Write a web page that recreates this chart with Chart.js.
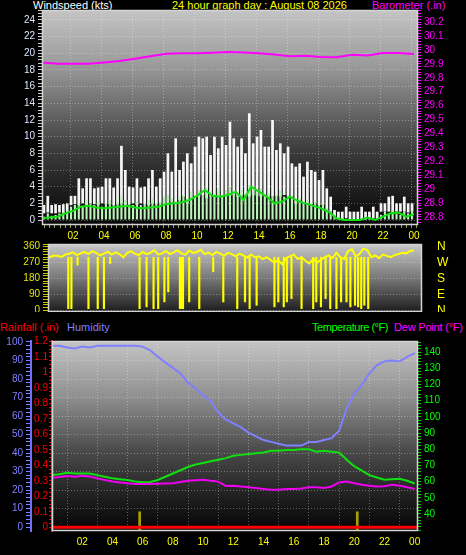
<!DOCTYPE html>
<html>
<head>
<meta charset="utf-8">
<script src="https://cdn.jsdelivr.net/npm/chart.js@4.4.1/dist/chart.umd.min.js"></script>
<style>
  html, body { margin: 0; padding: 0; background: #000; }
  body { width: 466px; height: 555px; position: relative; overflow: hidden; font-family: "Liberation Sans", Arial, sans-serif; }
  canvas { position: absolute; left: 0; }
  .lbl { position: absolute; font-size: 11px; line-height: 12px; white-space: nowrap; }
</style>
</head>
<body>
<div class="lbl" style="left:33px;top:-1px;color:#fff">Windspeed (kts)</div>
<div class="lbl" style="left:172px;top:-1px;color:#ff0">24 hour graph day : August 08 2026</div>
<div class="lbl" style="left:372px;top:-1px;color:#f0f">Barometer (.in)</div>
<div class="lbl" style="left:0;top:321px;color:#f00">Rainfall (.in)</div>
<div class="lbl" style="left:67px;top:321px;color:#8080ff">Humidity</div>
<div class="lbl" style="left:312px;top:321px;color:#0f0;letter-spacing:-0.45px">Temperature (°F)</div>
<div class="lbl" style="left:394px;top:321px;color:#f0f;letter-spacing:-0.2px">Dew Point (°F)</div>
<canvas id="windChart" width="466" height="243" style="top:0"></canvas>
<canvas id="dirChart" width="466" height="72" style="top:240px"></canvas>
<canvas id="climateChart" width="466" height="240" style="top:315px"></canvas>
<script>
// wind, one value per 15 minute slot from midnight (kts)
const gustHigh = [1.8,2.9,1.8,1.9, 1.8,1.9,2.0,2.9, 2.9,5.0,3.8,5.0, 5.0,3.8,3.9,4.0, 5.0,5.0,3.9,5.0, 8.9,6.0,4.0,3.9,
  5.0,3.9,4.0,5.0, 6.0,4.0,5.0,5.8, 8.0,5.8,9.8,6.0, 7.0,8.0,6.8,8.8, 10.0,9.8,10.0,7.8, 10.0,8.6,10.0,9.0,
  11.8,9.8,8.8,9.8, 8.0,12.8,9.2,10.0, 10.8,8.8,8.8,12.0, 8.4,9.2,8.0,8.8, 6.8,6.4,6.8,5.2, 7.0,6.0,5.8,4.8,
  6.0,3.8,2.8,1.2, 1.0,1.0,1.6,1.0, 1.0,1.0,1.6,1.0, 1.0,1.6,1.0,2.0, 2.0,2.8,2.9,2.0, 2.0,2.8,2.0,2.0];
const gustLow = [0.8,0.9,0.8,0.8, 0.9,0.8,1.0,1.8, 1.9,1.8,2.0,1.8, 2.0,1.9,1.8,2.0, 1.9,2.0,1.8,1.9, 2.0,1.8,1.9,2.0,
  1.8,2.0,1.9,1.8, 2.0,1.9,2.0,2.0, 2.0,2.2,1.9,2.4, 2.8,2.0,2.6,2.9, 2.8,3.0,2.6,2.9, 3.0,2.8,2.9,3.0,
  2.9,3.0,2.8,3.0, 3.0,2.8,3.0,2.9, 2.8,3.0,2.9,2.8, 2.9,2.8,3.0,2.9, 2.8,2.0,2.4,2.0, 2.0,1.9,2.0,1.8,
  1.8,1.0,1.0,0.4, 0.0,0.0,0.2,0.0, 0.0,0.0,0.0,0.0, 0.0,0.2,0.0,1.0, 1.0,1.0,0.9,1.0, 1.0,1.0,0.9,1.0];
const windHigh = [0.4,0.8,0.5,0.6, 0.8,1.0,1.2,1.6, 1.8,2.0,1.6,2.4, 2.0,1.8,2.2,1.6, 2.0,2.4,1.8,2.2, 2.8,2.4,2.0,1.8,
  2.2,1.8,2.0,2.4, 2.6,2.0,2.2,2.8, 3.0,2.6,2.2,2.8, 3.0,2.6,3.4,3.0, 3.6,3.0,3.8,3.4, 3.2,3.8,3.0,3.6,
  4.0,3.4,3.0,3.6, 3.2,4.2,3.6,3.4, 3.8,3.0,3.2,2.8, 3.0,3.6,2.8,3.0, 2.8,2.2,2.6,2.0, 2.4,2.0,2.2,1.8,
  2.0,1.4,1.0,0.6, 0,0,0,0, 0,0,0,0.2, 0,0,0,0.6, 1.0,0.8,1.2,0.8, 0.6,1.0,0.8,1.2];

// average wind, every half hour
const avgWind = [0.2,0.3,0.4,0.8,1.1,1.6,1.7,1.5,1.4,1.5,1.6,1.7,1.5,1.4,1.5,1.6,1.9,2.0,2.1,2.4,2.9,3.6,2.9,2.8,
  3.0,3.4,2.4,4.0,3.4,2.8,2.0,2.2,2.8,2.3,2.0,1.7,1.4,1.0,0.2,0,0,0,0.3,0,0.4,0.8,0.9,0.4,0.7];

// barometer, hourly (in)
const baroValues = [29.91,29.90,29.90,29.90,29.91,29.92,29.937,29.955,29.972,29.977,29.977,29.98,29.985,29.982,
  29.977,29.968,29.955,29.958,29.95,29.948,29.965,29.96,29.978,29.978,29.97];

// wind direction, every quarter hour (deg)
const dirValues = [315,305,300,310, 308,302,315,320, 328,312,322,330, 318,335,325,310, 320,332,315,328,
  318,300,325,335, 320,312,330,318, 325,340,315,322, 335,318,328,340, 322,315,338,325, 330,342,318,326,
  312,330,320,308, 325,318,305,320, 310,298,315,300, 305,290,300,285, 270,285,260,295, 305,315,290,300,
  280,265,290,270, 285,300,310,295, 325,300,290,335, 345,305,320,350, 340,300,310,295, 315,308,300,312,
  318,325,322,335, 340];
const dropHours = [1.7,1.9,2.3,3.0,3.6,4.0,4.4,6.3,6.75,7.2,7.5,7.9,8.15,8.9,9.0,9.1,9.5,10.15,11.05,11.7,
  12.6,13.1,13.4,13.85,15.0,15.25,15.6,15.8,16.1,16.75,17.5,17.7,18.0,18.3,18.6,19.0,19.3,19.65,19.9,
  20.2,20.4,20.6,20.8,21.05];
const dropLows = [9,9,256,9,9,9,265,9,19,9,9,47,104,9,9,9,47,9,218,47,
  9,47,9,28,19,47,19,47,66,9,9,47,19,66,9,9,47,47,19,
  28,19,9,28,9];
const compass = { 0: "N", 90: "E", 180: "S", 270: "W", 360: "N" };

// humidity (%), temperature and dew point (F), every half hour
const humidity = [98,98,97,96.5,97.5,97,98,98,98,98,98,98,97.5,95.5,92,89,86,83,78,75,71,68,62,58,56,54,51,49,
  47,46,45,44,44,44,46,46,47,48,52,64,72,77,83,87.5,89.5,90,89.5,92,94];
const temperature = [64,64.5,65.5,65,65,65,64,63,62,61.5,61,60,59.6,59.8,61,63,65,67,69,70.5,71.5,72.5,73.5,74.5,
  76,76.5,77,77.5,78,79,79,79.5,79.5,80,80,78.5,79,78.5,78,73.5,69.5,66.8,64,62.5,61.2,61.5,61.8,60.5,58.8];
const dewPoint = [62.4,62.8,63.5,63,63.6,63.2,62,61,60,59.5,59,58.5,58.5,58.5,58.6,58.8,59,59.8,60.5,60.8,61.2,60.5,
  60,57.3,57.5,57,56.5,56,55.5,55,55,55.5,55.5,55.8,56.5,56.5,56,57,59.5,60,59,58,57.5,57,57.2,58,57.5,56.5,55.5];

// rainfall (in)
const rainHours = [0, 24.3];
const rainTotals = [0, 0];
const markHours = [5.8, 20.2];
const markValues = [0.1, 0.1];

const slotHours = gustHigh.map((_, i) => i / 4 + 0.125);
const halfHours = avgWind.map((_, i) => i / 2);
const baroHours = baroValues.map((_, i) => i);
const dirHours = dirValues.map((_, i) => i / 4);
const xy = (xs, ys) => xs.map((x, i) => ({ x, y: ys[i] }));

Chart.defaults.font.family = '"Liberation Sans", Arial, sans-serif';
Chart.defaults.font.size = 10;

const GRID = "rgba(255,255,255,0.32)";
const isMult = (v, m) => Math.abs(v / m - Math.round(v / m)) < 1e-6;
const pad2 = (h) => String(Math.round(h) % 24).padStart(2, "0");
const fixW = (w) => (s) => { s.width = w; s.paddingTop = 0; s.paddingBottom = 0; };
const fixH = (h) => (s) => { s.height = h; s.paddingLeft = 0; s.paddingRight = 0; };
const stepTicks = (from, to, step) => (s) => {
  s.ticks = [];
  for (let i = 0; from + i * step <= to + 1e-9; i++) s.ticks.push({ value: +(from + i * step).toFixed(4) });
};
const majorGrid = (m) => (c) => (c.tick && isMult(c.tick.value, m) ? GRID : "rgba(0,0,0,0)");

const panelBg = {
  id: "panelBg",
  beforeDraw(chart, args, opts) {
    const { ctx, chartArea: a } = chart;
    const g = ctx.createLinearGradient(0, a.top, 0, a.bottom);
    opts.stops.forEach(([p, c]) => g.addColorStop(p, c));
    ctx.save();
    ctx.fillStyle = g;
    ctx.fillRect(a.left, a.top, a.right - a.left, a.bottom - a.top);
    ctx.restore();
  },
  afterDraw(chart, args, opts) {
    const { ctx, chartArea: a } = chart;
    ctx.save();
    ctx.strokeStyle = opts.frame;
    ctx.lineWidth = 1.5;
    ctx.strokeRect(a.left + 0.5, a.top + 0.5, a.right - a.left - 1, a.bottom - a.top - 1);
    ctx.restore();
  }
};

const base = (padding, stops) => ({
  responsive: false,
  animation: false,
  devicePixelRatio: 1,
  layout: { padding },
  plugins: {
    legend: { display: false },
    tooltip: { enabled: false },
    panelBg: { stops, frame: "#d4d4d4" }
  }
});

// windspeed + barometer
new Chart(document.getElementById("windChart"), {
  type: "line",
  plugins: [panelBg],
  data: {
    datasets: [
      {
        type: "bar",
        data: slotHours.map((x, i) => ({ x, y: [gustLow[i], gustHigh[i]] })),
        backgroundColor: "rgba(255,255,255,0.96)",
        barPercentage: 0.7,
        categoryPercentage: 1,
        grouped: false,
        order: 4,
        yAxisID: "y"
      },
      {
        type: "bar",
        data: slotHours.map((x, i) => ({ x, y: [0, windHigh[i]] })),
        backgroundColor: "#b8f2b4",
        barPercentage: 0.55,
        categoryPercentage: 1,
        grouped: false,
        order: 3,
        yAxisID: "y"
      },
      {
        data: xy(halfHours, avgWind),
        borderColor: "#10e010",
        borderWidth: 2,
        pointRadius: 0,
        order: 2,
        yAxisID: "y"
      },
      {
        data: xy(baroHours, baroValues),
        borderColor: "#ff00ff",
        borderWidth: 2,
        pointRadius: 0,
        order: 1,
        yAxisID: "y1"
      }
    ]
  },
  options: {
    ...base({ top: 10, bottom: 0, left: 0, right: 0 },
      [[0, "#c4c4c4"], [0.25, "#9c9c9c"], [0.45, "#6c6c6c"], [0.65, "#3c3c3c"], [0.88, "#181818"], [1, "#080808"]]),
    scales: {
      x: {
        type: "linear", min: 0, max: 24.26, offset: false,
        afterBuildTicks: stepTicks(0, 24.26, 1 / 3),
        afterFit: fixH(18),
        grid: { color: majorGrid(2), tickColor: "#9a9a60", tickLength: 3 },
        border: { display: false, dash: [1, 2] },
        ticks: {
          color: "#ffff00", padding: 2, autoSkip: false, maxRotation: 0,
          callback: (v) => { const q = Math.round(v * 3); return q > 0 && q % 6 === 0 ? pad2(q / 3) : ""; }
        }
      },
      y: {
        position: "left", min: -0.6, max: 25.2,
        afterBuildTicks: stepTicks(0, 25.2, 0.4),
        afterFit: fixW(42),
        grid: { color: majorGrid(2), tickColor: "#c8c8c8", tickLength: 4 },
        border: { display: false, dash: [1, 2] },
        ticks: { color: "#dde6ff", padding: 3, autoSkip: false, callback: (v) => (isMult(v, 2) ? String(Math.round(v)) : "") }
      },
      y1: {
        position: "right", min: 28.742, max: 30.287,
        afterBuildTicks: stepTicks(28.76, 30.28, 0.02),
        afterFit: fixW(48),
        grid: { drawOnChartArea: false, tickColor: "#ff00ff", tickLength: 3 },
        border: { display: false },
        ticks: {
          color: "#ff00ff", padding: 3, autoSkip: false,
          callback: (v) => (isMult(v, 0.1) && v > 28.79 ? String(parseFloat(v.toFixed(1))) : "")
        }
      }
    }
  }
});

// wind direction
new Chart(document.getElementById("dirChart"), {
  type: "line",
  plugins: [panelBg],
  data: {
    datasets: [
      {
        type: "bar",
        data: dropHours.map((x, i) => ({ x, y: [dropLows[i], 300] })),
        backgroundColor: "#ffff00",
        barThickness: 1.5,
        grouped: false,
        order: 2,
        yAxisID: "y"
      },
      {
        data: xy(dirHours, dirValues),
        borderColor: "#ffff00",
        borderWidth: 2,
        pointRadius: 0,
        order: 1,
        yAxisID: "y"
      }
    ]
  },
  options: {
    ...base({ top: 4, bottom: 0, left: 0, right: 0 }, [[0, "#c8c8c8"], [0.5, "#787878"], [1, "#1c1c1c"]]),
    scales: {
      x: { type: "linear", min: 0.39, max: 24.52, offset: false, display: false },
      y: {
        position: "left", min: -10, max: 375,
        afterBuildTicks: stepTicks(0, 375, 15),
        afterFit: fixW(48),
        grid: { color: majorGrid(90), tickColor: "#c8c800", tickLength: 5 },
        border: { display: false, dash: [1, 2] },
        ticks: { color: "#e4e400", padding: 3, autoSkip: false, callback: (v) => (isMult(v, 90) ? String(Math.round(v)) : "") }
      },
      yc: {
        position: "right", min: -10, max: 375,
        afterBuildTicks: stepTicks(0, 360, 90),
        afterFit: fixW(44),
        grid: { drawOnChartArea: false, drawTicks: false },
        border: { display: false },
        ticks: { color: "#ffff00", font: { size: 12 }, padding: 15, autoSkip: false, callback: (v) => compass[Math.round(v)] || "" }
      }
    }
  }
});

// rainfall, humidity, temperature, dew point
new Chart(document.getElementById("climateChart"), {
  type: "line",
  plugins: [panelBg],
  data: {
    datasets: [
      {
        type: "bar",
        data: markHours.map((x, i) => ({ x, y: [-0.03, markValues[i]] })),
        backgroundColor: "#a8a000",
        barThickness: 2,
        grouped: false,
        order: 6,
        yAxisID: "yR"
      },
      {
        data: xy(halfHours, humidity),
        borderColor: "#8080ff",
        borderWidth: 2,
        pointRadius: 0,
        order: 4,
        yAxisID: "yH"
      },
      {
        data: xy(halfHours, temperature),
        borderColor: "#10e010",
        borderWidth: 2,
        pointRadius: 0,
        order: 3,
        yAxisID: "yT"
      },
      {
        data: xy(halfHours, dewPoint),
        borderColor: "#f000f0",
        borderWidth: 2,
        pointRadius: 0,
        order: 2,
        yAxisID: "yT"
      },
      {
        data: xy(rainHours, rainTotals),
        borderColor: "#ff0000",
        borderWidth: 3,
        pointRadius: 0,
        order: 1,
        yAxisID: "yR"
      }
    ]
  },
  options: {
    ...base({ top: 26, bottom: 0, left: 0, right: 0 },
      [[0, "#c4c4c4"], [0.3, "#8e8e8e"], [0.57, "#4c4c4c"], [0.84, "#1c1c1c"], [1, "#050505"]]),
    scales: {
      x: {
        type: "linear", min: 0, max: 24.22, offset: false,
        afterBuildTicks: stepTicks(0, 24, 2),
        afterFit: fixH(24),
        grid: { color: GRID, drawTicks: false },
        border: { display: false, dash: [1, 2] },
        ticks: { color: "#ffff00", padding: 5, autoSkip: false, maxRotation: 0, callback: (v) => (v > 0 ? pad2(v) : "") }
      },
      yH: {
        position: "left", weight: 1, min: -2.16, max: 100.54,
        afterBuildTicks: stepTicks(0, 100, 2),
        afterFit: fixW(31),
        grid: { color: majorGrid(10), tickColor: "#8080ff", tickLength: 5 },
        border: { display: true, color: "#7070ff", width: 2, dash: [1, 2] },
        ticks: { color: "#8080ff", padding: 3, autoSkip: false, callback: (v) => (isMult(v, 10) ? String(Math.round(v)) : "") }
      },
      yR: {
        position: "left", weight: 0, min: -0.024, max: 1.202,
        afterBuildTicks: stepTicks(0, 1.2, 0.025),
        afterFit: fixW(21),
        grid: { drawOnChartArea: false, tickColor: "#ff0000", tickLength: 3 },
        border: { display: true, color: "#ff2020", width: 2 },
        ticks: {
          color: "#ff0000", padding: 1, autoSkip: false,
          callback: (v) => (isMult(v, 0.1) ? String(parseFloat(v.toFixed(1))) : "")
        }
      },
      yT: {
        position: "right", min: 29.5, max: 146.8,
        afterBuildTicks: stepTicks(30, 146, 2),
        afterFit: fixW(48),
        grid: { drawOnChartArea: false, tickColor: "#00d000", tickLength: 3 },
        border: { display: false },
        ticks: {
          color: "#00ff00", padding: 3, autoSkip: false,
          callback: (v) => (isMult(v, 10) && v >= 40 && v <= 140 ? String(Math.round(v)) : "")
        }
      }
    }
  }
});
</script>
</body>
</html>
